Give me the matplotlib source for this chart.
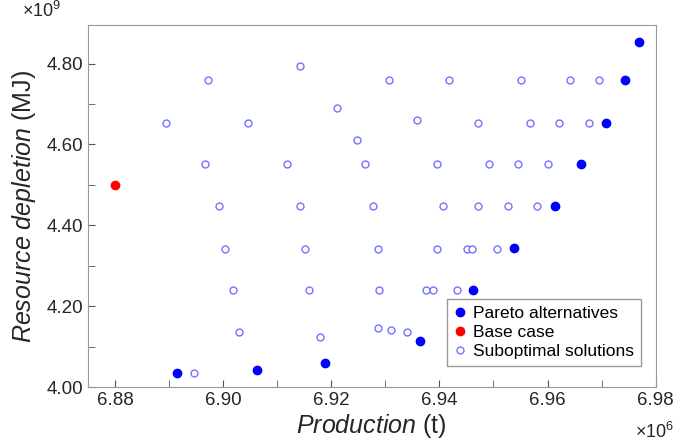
import matplotlib
matplotlib.use("Agg")
import matplotlib.pyplot as plt
from matplotlib.ticker import MultipleLocator, FormatStrFormatter
from matplotlib.lines import Line2D

plt.rcParams['font.family'] = ['Liberation Sans', 'DejaVu Sans']
plt.rcParams['mathtext.fontset'] = 'custom'
plt.rcParams['mathtext.rm'] = 'Liberation Sans'
plt.rcParams['mathtext.it'] = 'Liberation Sans:italic'

# production in 1e6 t, resource depletion in 1e9 MJ
pareto_x = [6.8914, 6.9062, 6.9189, 6.9365, 6.9463, 6.9538, 6.9613, 6.9661, 6.9708, 6.9743, 6.9769]
pareto_y = [4.034, 4.042, 4.059, 4.114, 4.240, 4.343, 4.448, 4.551, 4.654, 4.758, 4.852]

base_x = [6.880]
base_y = [4.499]

sub_x = [6.8946,
         6.9030, 6.9180, 6.9286, 6.9310, 6.9341,
         6.9018, 6.9159, 6.9288, 6.9376, 6.9389, 6.9432,
         6.9004, 6.9151, 6.9286, 6.9396, 6.9451, 6.9460, 6.9506,
         6.8993, 6.9143, 6.9278, 6.9407, 6.9472, 6.9526, 6.9581,
         6.8967, 6.9119, 6.9262, 6.9396, 6.9491, 6.9546, 6.9601,
         6.9247, 6.8894, 6.9046, 6.9472, 6.9567, 6.9621, 6.9676, 6.9358,
         6.9211,
         6.8972, 6.9307, 6.9418, 6.9550, 6.9641, 6.9696,
         6.9143]
sub_y = [4.034,
         4.136, 4.124, 4.145, 4.141, 4.137,
         4.240, 4.240, 4.240, 4.240, 4.240, 4.240,
         4.342, 4.342, 4.342, 4.342, 4.342, 4.342, 4.342,
         4.448, 4.448, 4.448, 4.448, 4.448, 4.448, 4.448,
         4.551, 4.551, 4.551, 4.551, 4.551, 4.551, 4.551,
         4.611, 4.654, 4.654, 4.654, 4.654, 4.654, 4.654, 4.660,
         4.691,
         4.758, 4.758, 4.758, 4.758, 4.758, 4.758,
         4.793]

fig = plt.figure(figsize=(6.76, 4.48), dpi=100)
ax = fig.add_axes([0.130, 0.136, 0.840, 0.808])

ax.plot(sub_x, sub_y, 'o', ms=5, mfc='white', mec=(0.45, 0.45, 1.0), mew=1.0, zorder=2)
ax.plot(pareto_x, pareto_y, 'o', ms=6, color='blue', zorder=3)
ax.plot(base_x, base_y, 'o', ms=6, color='red', zorder=3)

ax.set_xlim(6.875, 6.98)
ax.set_ylim(4.0, 4.895)
ax.xaxis.set_major_locator(MultipleLocator(0.02))
ax.xaxis.set_minor_locator(MultipleLocator(0.01))
ax.yaxis.set_major_locator(MultipleLocator(0.2))
ax.yaxis.set_minor_locator(MultipleLocator(0.1))
ax.xaxis.set_major_formatter(FormatStrFormatter('%.2f'))
ax.yaxis.set_major_formatter(FormatStrFormatter('%.2f'))
ax.tick_params(which='both', direction='in', top=False, right=False,
               colors='#555555', labelcolor='#262626', labelsize=13.5)
ax.tick_params(which='major', length=5)
ax.tick_params(which='minor', length=5)
for s in ax.spines.values():
    s.set_color('#999999')

ax.set_xlabel(r'$\it{Production}$ (t)', fontsize=18, color='#262626', labelpad=2)
ax.set_ylabel(r'$\it{Resource\ depletion}$ (MJ)', fontsize=18, color='#262626', labelpad=6)

fig.text(0.062, 0.975, r'$\times10^{9}$', fontsize=13, color='#262626', ha='center', va='center')
fig.text(0.997, 0.035, r'$\times10^{6}$', fontsize=13, color='#262626', ha='right', va='center')

handles = [
    Line2D([], [], ls='none', marker='o', ms=6, color='blue'),
    Line2D([], [], ls='none', marker='o', ms=6, color='red'),
    Line2D([], [], ls='none', marker='o', ms=5, mfc='white', mec=(0.45, 0.45, 1.0)),
]
leg = ax.legend(handles, ['Pareto alternatives', 'Base case', 'Suboptimal solutions'],
                loc='lower right', fontsize=12.5, fancybox=False, framealpha=1,
                edgecolor='#999999', handlelength=0.6, handletextpad=0.5,
                borderpad=0.4, labelspacing=0.22, bbox_to_anchor=(0.99, 0.035))

fig.savefig('out.png', dpi=100)
